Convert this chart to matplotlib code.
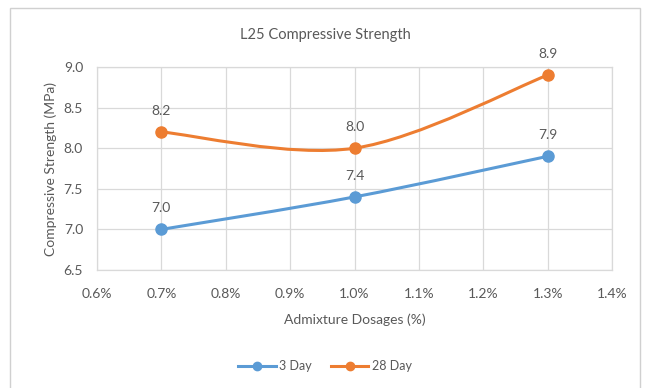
import numpy as np
import matplotlib.pyplot as plt
from matplotlib.path import Path
from matplotlib.patches import PathPatch, Rectangle
from matplotlib.lines import Line2D

dosage = [0.7, 1.0, 1.3]
day3 = [7.0, 7.4, 7.9]
day28 = [8.2, 8.0, 8.9]
series_names = ["3 Day", "28 Day"]
x_ticks = [0.6, 0.7, 0.8, 0.9, 1.0, 1.1, 1.2, 1.3, 1.4]
y_ticks = [6.5, 7.0, 7.5, 8.0, 8.5, 9.0]

blue = "#5B9BD5"
orange = "#ED7D31"
text_c = "#595959"
grid_c = "#D9D9D9"

plt.rcParams['font.family'] = ['Lato', 'DejaVu Sans']


def smooth_path(xs, ys):
    # bezier segments with catmull-rom style control points
    xs = np.asarray(xs, float)
    ys = np.asarray(ys, float)
    n = len(xs)
    verts = [(xs[0], ys[0])]
    codes = [Path.MOVETO]
    for i in range(n - 1):
        p0 = np.array([xs[max(i - 1, 0)], ys[max(i - 1, 0)]])
        p1 = np.array([xs[i], ys[i]])
        p2 = np.array([xs[i + 1], ys[i + 1]])
        p3 = np.array([xs[min(i + 2, n - 1)], ys[min(i + 2, n - 1)]])
        c1 = p1 + (p2 - p0) / 6.0
        c2 = p2 - (p3 - p1) / 6.0
        verts += [tuple(c1), tuple(c2), tuple(p2)]
        codes += [Path.CURVE4] * 3
    return Path(verts, codes)


fig = plt.figure(figsize=(6.5, 3.88), dpi=100)
fig.patches.append(Rectangle((10 / 650, -0.1), 630 / 650, 1.1 - 8 / 388,
                             transform=fig.transFigure, fill=False,
                             edgecolor="#D0D0D0", linewidth=1))
ax = fig.add_axes([97 / 650, 1 - 270 / 388, 515 / 650, 203 / 388])

for ys, col in [(day3, blue), (day28, orange)]:
    ax.add_patch(PathPatch(smooth_path(dosage, ys), fill=False,
                           edgecolor=col, linewidth=2.2, zorder=3,
                           capstyle='round'))
    ax.plot(dosage, ys, linestyle='none', marker='o', markersize=8,
            color=col, zorder=4)
    for x, y in zip(dosage, ys):
        ax.annotate(f"{y:.1f}", (x, y), xytext=(0, 11), textcoords='offset points',
                    ha='center', va='bottom', fontsize=10, color=text_c)

ax.set_xlim(0.6, 1.4)
ax.set_ylim(6.5, 9.0)
ax.set_xticks(x_ticks)
ax.set_xticklabels([f"{v:.1f}%" for v in x_ticks])
ax.set_yticks(y_ticks)
ax.set_yticklabels([f"{v:.1f}" for v in y_ticks])
ax.tick_params(axis='x', length=0, labelsize=10, colors=text_c, pad=13)
ax.tick_params(axis='y', length=0, labelsize=10, colors=text_c, pad=10)
ax.grid(True, color=grid_c, linewidth=0.9)
ax.set_axisbelow(True)
for s in ax.spines.values():
    s.set_color(grid_c)
    s.set_linewidth(0.9)

ax.set_xlabel("Admixture Dosages (%)", fontsize=10, color=text_c, labelpad=10)
ax.set_ylabel("Compressive Strength (MPa)", fontsize=10, color=text_c, labelpad=5)
fig.text(0.5, 1 - 35 / 388, "L25 Compressive Strength", ha='center', va='center',
         fontsize=10.5, color=text_c)

handles = [Line2D([], [], color=blue, marker='o', markersize=6, linewidth=2.2),
           Line2D([], [], color=orange, marker='o', markersize=6, linewidth=2.2)]
fig.legend(handles, series_names, loc='center', bbox_to_anchor=(0.5, 1 - 366 / 388),
           ncol=2, frameon=False, fontsize=9, labelcolor=text_c,
           handlelength=3, columnspacing=1.5, handletextpad=0.3)

fig.savefig("out.png", dpi=100, facecolor='white')
